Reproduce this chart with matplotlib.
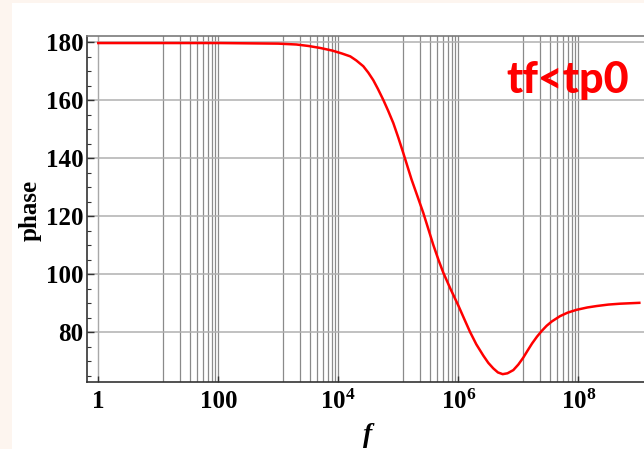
import numpy as np
import matplotlib
matplotlib.use("Agg")
import matplotlib.pyplot as plt
from matplotlib.patches import Rectangle

matplotlib.rcParams.update({
    'font.family': 'Liberation Serif',
    'mathtext.fontset': 'custom',
    'mathtext.rm': 'Liberation Serif:bold',
    'mathtext.it': 'Liberation Serif:bold',
    'mathtext.bf': 'Liberation Serif:bold',
})

# ------------------------------------------------------------
# data: log10(f) and phase (deg)
# ------------------------------------------------------------
log_f = [0.0, 1.0, 2.0, 2.5, 3.0, 3.3, 3.5, 3.7, 3.9, 4.06, 4.2, 4.3, 4.417,
         4.5, 4.583, 4.66, 4.75, 4.83, 4.917, 5.0, 5.083, 5.22, 5.417, 5.583,
         5.67, 5.75, 5.87, 6.0, 6.1, 6.195, 6.3, 6.417, 6.5, 6.583, 6.66, 6.74,
         6.82, 6.917, 7.0, 7.083, 7.16, 7.23, 7.31, 7.39, 7.473, 7.56, 7.695,
         7.82, 7.973, 8.15, 8.307, 8.5, 8.695, 9.017]
phase = [179.8, 179.8, 179.8, 179.7, 179.6, 179.3, 178.8, 178.1, 177.2, 176.2,
         175.2, 173.8, 171.8, 169.6, 167.0, 164.0, 160.2, 156.5, 152.2, 147.2,
         141.9, 132.8, 121.2, 110.2, 105.0, 100.6, 95.0, 89.3, 84.6, 80.2,
         75.9, 72.0, 69.5, 67.6, 66.2, 65.6, 65.9, 67.0, 68.9, 71.3, 73.9,
         76.2, 78.5, 80.5, 82.3, 83.8, 85.6, 86.8, 87.8, 88.6, 89.1, 89.6,
         89.9, 90.2]
freq = [10.0 ** v for v in log_f]

# vertical grid line values within each group, and the decades they repeat in
grid_steps = [12, 23, 34, 45, 56, 67, 78, 89, 100]
grid_decades = [1, 100, 1e4, 1e6]
y_grid = [80, 100, 120, 140, 160, 180]

x_ticks = [1, 100, 1e4, 1e6, 1e8]
x_ticklabels = ['1', '100', r'$10^{4}$', r'$10^{6}$', r'$10^{8}$']
y_ticks = [80, 100, 120, 140, 160, 180]

fsize_tick = 18

fig = plt.figure(figsize=(6.44, 4.49), dpi=100)
fig.patch.set_facecolor('#fdf5ef')
fig.patches.append(Rectangle((12 / 644, 0), 1, 1 - 3 / 449,
                             transform=fig.transFigure,
                             facecolor='white', edgecolor='none', zorder=-10))

ax = fig.add_axes([87.3 / 644, 67.3 / 449, 1 - 87.3 / 644, 345.9 / 449])
ax.set_zorder(5)
ax.set_facecolor('white')
ax.set_xscale('log')
ax.set_xlim(10 ** -0.183, 10 ** 9.095)
ax.set_ylim(63.0, 182.3)

# grid
ax.axvline(1, color='#a8a8a8', lw=1.0, zorder=1)
for dec in grid_decades:
    for s in grid_steps:
        ax.axvline(dec * s, color='#8a8a8a', lw=0.9, zorder=1)
for yv in y_grid:
    ax.axhline(yv, color='#b0b0b0', lw=1.1, zorder=1)

ax.plot(freq, phase, color='red', lw=1.8, zorder=3)

ax.set_xticks(x_ticks)
ax.set_xticklabels(x_ticklabels)
ax.xaxis.set_minor_locator(matplotlib.ticker.NullLocator())
ax.set_yticks(y_ticks)
ax.set_yticks(np.arange(65, 182, 5), minor=True)

for lab in ax.get_xticklabels() + ax.get_yticklabels():
    lab.set_fontweight('bold')
    lab.set_fontsize(fsize_tick)

ax.tick_params(axis='y', which='major', direction='in', length=5, width=1,
               pad=3, color='#333333')
ax.tick_params(axis='y', which='minor', direction='in', length=3, width=0.8,
               color='#333333')
ax.tick_params(axis='x', which='major', direction='in', length=4, width=1,
               pad=6, color='#333333')

ax.spines['right'].set_visible(False)
ax.spines['top'].set_color('#7a7a7a')
ax.spines['left'].set_color('#333333')
ax.spines['bottom'].set_color('#333333')
for sp in ax.spines.values():
    sp.set_linewidth(1.2)

fig.text(30 / 644, 1 - 210 / 449, 'phase', rotation=90, ha='center',
         va='center', fontsize=18, fontweight='bold')
fig.text(368 / 644, 1 - 436 / 449, 'f', ha='center', va='center',
         fontsize=20, fontstyle='italic', fontweight='bold')

fig.text(568 / 644, 1 - 80 / 449, 'tf<tp0', ha='center', va='center',
         fontsize=31, fontweight='black', color='red', zorder=20,
         family=['Lato', 'DejaVu Sans'])

fig.savefig('out.png', dpi=100)
